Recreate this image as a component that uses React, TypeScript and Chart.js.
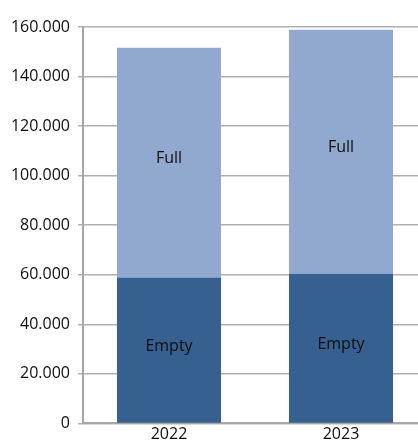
import React, { useEffect, useRef } from "react";
import { Chart, registerables } from "chart.js";

Chart.register(...registerables);

const categories = ["2022", "2023"];
const emptyValues = [58900, 60400];
const fullValues = [92700, 98500];
const seriesNames = ["Empty", "Full"];
const yTicks = [0, 20000, 40000, 60000, 80000, 100000, 120000, 140000, 160000];

const FONT = "'Open Sans', sans-serif";

const fmt = (v: number) => {
  if (v === 0) return "0";
  const s = Math.round(v).toString();
  return s.replace(/\B(?=(\d{3})+(?!\d))/g, ".");
};

const segmentLabels = {
  id: "segmentLabels",
  afterDatasetsDraw(chart: any) {
    const ctx = chart.ctx;
    ctx.save();
    ctx.font = `16px ${FONT}`;
    ctx.fillStyle = "#0d0d0d";
    ctx.textAlign = "center";
    ctx.textBaseline = "middle";
    chart.data.datasets.forEach((ds: any, di: number) => {
      const meta = chart.getDatasetMeta(di);
      meta.data.forEach((el: any) => {
        const y = (el.y + el.base) / 2 - 4;
        ctx.fillText(ds.label, el.x, y);
      });
    });
    ctx.restore();
  },
};

export default function App() {
  const ref = useRef<HTMLCanvasElement>(null);
  useEffect(() => {
    if (!ref.current) return;
    const chart = new Chart(ref.current, {
      type: "bar",
      data: {
        labels: categories,
        datasets: [
          {
            label: seriesNames[0],
            data: emptyValues,
            backgroundColor: "#366090",
            categoryPercentage: 1,
            barPercentage: 0.605,
          },
          {
            label: seriesNames[1],
            data: fullValues,
            backgroundColor: "#92A9CF",
            categoryPercentage: 1,
            barPercentage: 0.605,
          },
        ],
      },
      options: {
        responsive: false,
        animation: false,
        layout: { padding: { top: 27, right: 5, left: 0, bottom: 0 } },
        plugins: { legend: { display: false }, tooltip: { enabled: false } },
        scales: {
          x: {
            stacked: true,
            grid: { display: false, drawTicks: false },
            border: { display: true, color: "#a6a6a6", width: 2 },
            ticks: { font: { family: FONT, size: 16 }, color: "#0d0d0d", padding: 1 },
            afterFit: (s: any) => { s.height = 17; },
          },
          y: {
            stacked: true,
            min: 0,
            max: 160000,
            afterBuildTicks: (s: any) => { s.ticks = yTicks.map((v) => ({ value: v })); },
            grid: { color: "#b0b0b0", lineWidth: 1.5, tickLength: 5, drawTicks: true },
            border: { display: true, color: "#a6a6a6", width: 2 },
            ticks: {
              font: { family: FONT, size: 16 },
              color: "#0d0d0d",
              padding: 8,
              callback: (v: any) => fmt(Number(v)),
            },
            afterFit: (s: any) => { s.width = 83; },
          },
        },
      },
      plugins: [segmentLabels],
    });
    return () => chart.destroy();
  }, []);
  return (
    <div style={{ position: "fixed", left: 0, top: 0, width: 418, height: 441, overflow: "hidden", background: "#fff" }}>
      <canvas ref={ref} width={432} height={441} style={{ display: "block", width: 432, height: 441 }} />
    </div>
  );
}
